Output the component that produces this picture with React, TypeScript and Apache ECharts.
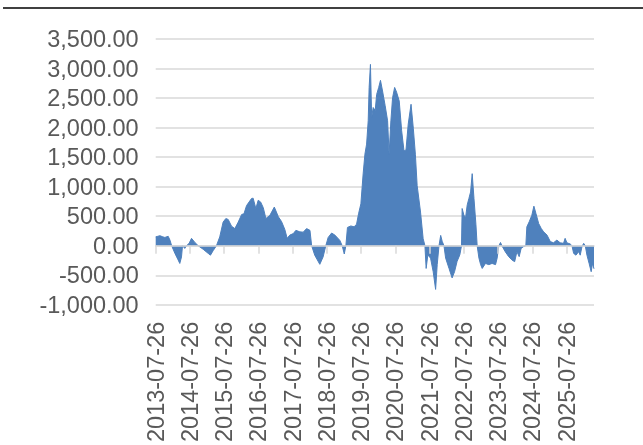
import React, { useEffect, useRef } from "react";
import * as echarts from "echarts";

const dates: string[] = [
  "2013-07-26", "2013-08-18", "2013-09-09", "2013-10-10", "2013-11-01", "2013-12-06", "2013-12-25",
  "2014-01-12", "2014-02-16", "2014-03-22", "2014-04-09", "2014-04-27", "2014-05-08", "2014-06-01", "2014-06-20", "2014-07-17", "2014-08-12", "2014-09-17", "2014-10-22", "2014-12-14",
  "2015-02-06", "2015-03-02", "2015-03-30", "2015-05-05", "2015-06-09", "2015-07-15", "2015-08-13", "2015-09-07", "2015-10-13", "2015-11-17", "2015-12-23",
  "2016-01-29", "2016-02-22", "2016-03-21", "2016-05-13", "2016-05-30", "2016-06-28", "2016-07-23", "2016-08-18", "2016-09-15", "2016-10-13", "2016-11-25",
  "2017-01-11", "2017-02-23", "2017-03-29", "2017-05-03", "2017-05-28", "2017-06-25", "2017-08-01", "2017-08-29", "2017-10-10", "2017-11-15", "2017-12-21",
  "2018-01-26", "2018-02-13", "2018-03-18", "2018-05-11", "2018-06-15", "2018-07-14", "2018-08-08", "2018-09-14", "2018-10-19", "2018-12-11",
  "2019-01-05", "2019-01-27", "2019-02-13", "2019-03-02", "2019-04-07", "2019-05-12", "2019-06-07", "2019-06-28", "2019-07-23", "2019-08-16", "2019-09-04", "2019-09-22", "2019-10-09", "2019-10-19", "2019-11-02", "2019-11-15", "2019-12-01", "2019-12-23",
  "2020-01-07", "2020-01-29", "2020-02-17", "2020-03-10", "2020-04-07", "2020-05-03", "2020-05-19", "2020-06-07", "2020-06-25", "2020-07-17", "2020-08-07", "2020-09-04", "2020-09-30", "2020-10-25", "2020-11-15", "2020-12-09",
  "2021-01-08", "2021-02-01", "2021-02-23", "2021-03-14", "2021-04-19", "2021-05-17", "2021-06-05", "2021-06-18", "2021-07-06", "2021-08-04", "2021-09-01", "2021-09-27", "2021-10-14", "2021-11-02", "2021-11-20", "2021-12-06", "2021-12-25",
  "2022-01-12", "2022-02-17", "2022-03-22", "2022-04-17", "2022-05-14", "2022-06-12", "2022-06-30", "2022-07-07", "2022-07-25", "2022-08-12", "2022-08-30", "2022-09-17", "2022-10-05", "2022-10-22", "2022-11-10", "2022-12-01", "2022-12-14",
  "2023-01-02", "2023-01-20", "2023-02-06", "2023-03-13", "2023-04-17", "2023-05-22", "2023-06-28", "2023-07-15", "2023-08-02", "2023-08-20", "2023-09-04", "2023-10-09", "2023-11-15", "2023-12-19",
  "2024-01-18", "2024-02-11", "2024-03-06", "2024-03-27", "2024-04-22", "2024-05-16", "2024-05-27", "2024-06-21", "2024-07-19", "2024-08-10", "2024-09-01", "2024-09-30", "2024-10-28", "2024-11-22", "2024-12-28",
  "2025-02-01", "2025-03-07", "2025-04-12", "2025-05-17", "2025-06-22", "2025-07-09", "2025-07-28", "2025-09-01", "2025-09-20", "2025-10-08", "2025-11-02", "2025-11-30", "2025-12-17",
  "2026-01-05", "2026-01-23", "2026-02-09", "2026-02-27", "2026-03-22", "2026-04-13", "2026-04-27", "2026-05-13",
];

// Values at those dates
const values: number[] = [
  150, 160, 170, 150, 140, 160, 95,
  0, -130, -240, -300, -190, 0, -45, 0, 40, 125, 55, 0, -60,
  -130, -160, -85, 0, 150, 400, 460, 445, 330, 290, 400,
  530, 540, 680, 800, 805, 630, 770, 740, 645, 460, 515,
  655, 490, 410, 275, 125, 180, 205, 260, 235, 230, 290,
  260, 0, -160, -315, -190, 0, 140, 215, 180, 90,
  0, -140, 0, 310, 335, 320, 365, 540, 710, 1215, 1550, 1720, 2115, 2680, 3070, 2170, 2340, 2290,
  2560, 2680, 2800, 2620, 2370, 2115, 1550, 2115, 2505, 2680, 2600, 2450, 1945, 1605, 1620, 2060,
  2395, 1990, 1550, 1020, 570, 120, 0, -385, -155, -210, -440, -740, -320, 0, 175, 75, 0,
  -210, -385, -545, -440, -265, -155, 0, 630, 520, 470, 690, 800, 910, 1220, 800, 355, 0,
  -210, -320, -385, -300, -320, -300, -320, -210, 0, 55, 0, -100, -185, -240,
  -270, -100, -185, -45, -15, 0, 320, 405, 515, 670, 545, 375, 290, 235, 180,
  70, 50, 95, 50, 40, 125, 50, 30, 0, -130, -160, -100, -160,
  -15, 40, 0, -160, -300, -440, -300, -390,
];

// X axis tick labels
const tickDates: string[] = [
  "2013-07-26", "2014-07-26", "2015-07-26", "2016-07-26", "2017-07-26",
  "2018-07-26", "2019-07-26", "2020-07-26", "2021-07-26", "2022-07-26",
  "2023-07-26", "2024-07-26", "2025-07-26",
];

const xMin = "2013-07-26";
const xMax = "2026-05-13";

const toTs = (s: string) => {
  const [y, m, d] = s.split("-").map(Number);
  return new Date(y, m - 1, d).getTime();
};
const pad = (n: number) => (n < 10 ? "0" + n : "" + n);
const fmtDate = (v: number) => {
  const d = new Date(Math.round(v));
  return d.getFullYear() + "-" + pad(d.getMonth() + 1) + "-" + pad(d.getDate());
};

export default function App() {
  const ref = useRef<HTMLDivElement>(null);
  useEffect(() => {
    if (!ref.current) return;
    const chart = echarts.init(ref.current, undefined, { renderer: "svg" });
    const font = "Liberation Sans";
    const gray = "#d9d9d9";
    const textColor = "#595959";
    const tickTs = tickDates.map(toTs);
    chart.setOption({
      animation: false,
      textStyle: { fontFamily: font },
      grid: { left: 155.7, right: 49, top: 39, bottom: 139 },
      xAxis: [
        {
          type: "value",
          min: toTs(xMin),
          max: toTs(xMax),
          position: "bottom",
          axisLine: { show: true, onZero: true, lineStyle: { color: gray, width: 1.5 } },
          axisTick: { show: true, length: 8, customValues: tickTs, lineStyle: { color: gray, width: 1.5 } },
          axisLabel: { show: false },
          splitLine: { show: false },
          z: 5,
        },
        {
          type: "value",
          min: toTs(xMin),
          max: toTs(xMax),
          position: "bottom",
          axisLine: { show: false, onZero: false },
          axisTick: { show: false },
          axisLabel: {
            show: true,
            customValues: tickTs,
            rotate: 90,
            margin: 17,
            fontSize: 23.5,
            fontFamily: font,
            color: textColor,
            formatter: (v: number) => fmtDate(v),
          },
          splitLine: { show: false },
        },
      ],
      yAxis: {
        type: "value",
        min: -1000,
        max: 3500,
        interval: 500,
        axisLine: { show: false },
        axisTick: { show: false },
        splitLine: { lineStyle: { color: gray, width: 1.5 } },
        axisLabel: {
          fontSize: 23.5,
          fontFamily: font,
          color: textColor,
          margin: 17,
          formatter: (v: number) =>
            v.toLocaleString("en-US", { minimumFractionDigits: 2, maximumFractionDigits: 2 }),
        },
      },
      series: [
        {
          type: "line",
          xAxisIndex: 0,
          data: dates.map((d, i) => [toTs(d), values[i]]),
          showSymbol: false,
          symbol: "none",
          lineStyle: { width: 1, color: "#4f81bd" },
          itemStyle: { color: "#4f81bd" },
          areaStyle: { color: "#4f81bd", opacity: 1 },
        },
      ],
      graphic: [
        {
          type: "line",
          shape: { x1: 3, y1: 8, x2: 643, y2: 8 },
          style: { stroke: "#000", lineWidth: 1.7 },
        },
      ],
    });
    return () => chart.dispose();
  }, []);
  return (
    <div
      ref={ref}
      style={{ position: "fixed", left: 0, top: 0, width: 643, height: 445 }}
    />
  );
}
